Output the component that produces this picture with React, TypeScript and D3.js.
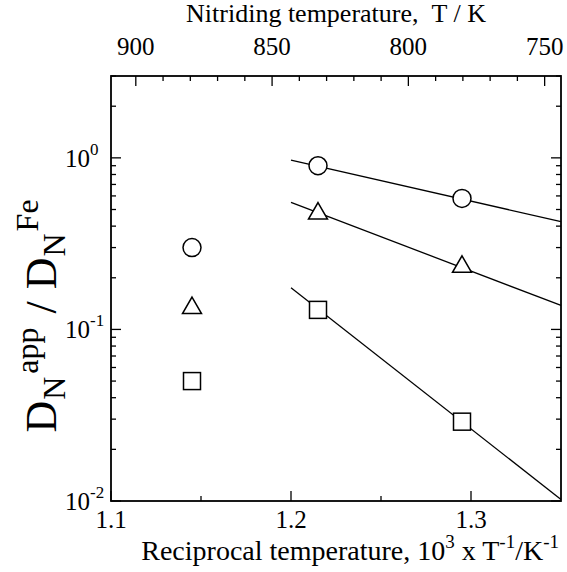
import React from 'react';
import * as d3 from 'd3';

// reciprocal temperature (10^3/T) and D_N^app / D_N^Fe
const xFit = [1.215, 1.295];
const circleY = [0.9, 0.58];
const triangleY = [0.48, 0.235];
const squareY = [0.13, 0.029];

// isolated points at the left
const xLeft = 1.145;
const leftY = { circle: 0.3, triangle: 0.135, square: 0.05 };

// fitted lines: [x0, y0, x1, y1]
const fitCircle = [1.2, 0.97, 1.35, 0.425];
const fitTriangle = [1.2, 0.55, 1.35, 0.138];
const fitSquare = [1.2, 0.175, 1.35, 0.0102];

const xTicksMajor = [1.1, 1.2, 1.3];
const xTicksMinor = [1.15, 1.25];
const tTicksMajor = [900, 850, 800, 750];
const tTicksMinor = [890, 880, 870, 860, 840, 830, 820, 810, 790, 780, 770, 760];
const yDecades = [-2, -1, 0];

const W = 567;
const H = 572;
const margin = { top: 76, right: 6, bottom: 71, left: 111 };
const FONT = "'Liberation Serif', 'Times New Roman', serif";

const App = () => {
  const x = d3.scaleLinear().domain([1.1, 1.35]).range([margin.left, W - margin.right]);
  const t = d3.scaleLinear().domain([909.1, 744]).range([margin.left, W - margin.right]);
  const y = d3.scaleLog().domain([0.01, 3]).range([H - margin.bottom, margin.top]);

  const x0 = margin.left;
  const x1 = W - margin.right;
  const y0 = H - margin.bottom;
  const y1 = margin.top;

  const yMinor: number[] = [];
  yDecades.forEach(e => {
    for (let k = 2; k <= 9; k++) {
      const v = k * Math.pow(10, e);
      if (v <= 3) yMinor.push(v);
    }
  });

  const line = d3.line<[number, number]>().x(d => x(d[0])).y(d => y(d[1]));
  const fitPath = (f: number[]) => line([[f[0], f[1]], [f[2], f[3]]]) as string;

  const circle = (cx: number, cy: number, key: string) => (
    <circle key={key} cx={cx} cy={cy} r={9} fill="#fff" stroke="#000" strokeWidth={1.5} />
  );
  const triangle = (cx: number, cy: number, key: string) => (
    <path key={key} d={`M${cx},${cy - 10}L${cx + 9.5},${cy + 6.5}L${cx - 9.5},${cy + 6.5}Z`}
      fill="#fff" stroke="#000" strokeWidth={1.5} />
  );
  const square = (cx: number, cy: number, key: string) => (
    <rect key={key} x={cx - 8.5} y={cy - 8.5} width={17} height={17}
      fill="#fff" stroke="#000" strokeWidth={1.5} />
  );

  return (
    <svg width={W} height={H} fontFamily={FONT}
      style={{ position: 'absolute', left: 0, top: 0, background: '#fff', fontFamily: FONT }}>
      <rect width={W} height={H} fill="#fff" />

      {/* fit lines */}
      <g stroke="#000" strokeWidth={1.3} fill="none">
        <path d={fitPath(fitCircle)} />
        <path d={fitPath(fitTriangle)} />
        <path d={fitPath(fitSquare)} />
      </g>

      {/* markers */}
      {xFit.map((v, i) => circle(x(v), y(circleY[i]), 'c' + i))}
      {xFit.map((v, i) => triangle(x(v), y(triangleY[i]), 't' + i))}
      {xFit.map((v, i) => square(x(v), y(squareY[i]), 's' + i))}
      {circle(x(xLeft), y(leftY.circle), 'lc')}
      {triangle(x(xLeft), y(leftY.triangle), 'lt')}
      {square(x(xLeft), y(leftY.square), 'ls')}

      {/* ticks, drawn inward */}
      <g stroke="#000" strokeWidth={1.3}>
        {xTicksMajor.map(v => (
          <line key={'xM' + v} x1={x(v)} x2={x(v)} y1={y0} y2={y0 - 10} />
        ))}
        {xTicksMinor.map(v => (
          <line key={'xm' + v} x1={x(v)} x2={x(v)} y1={y0} y2={y0 - 5} />
        ))}
        {tTicksMajor.map(v => (
          <line key={'tM' + v} x1={t(v)} x2={t(v)} y1={y1} y2={y1 + 10} />
        ))}
        {tTicksMinor.map(v => (
          <line key={'tm' + v} x1={t(v)} x2={t(v)} y1={y1} y2={y1 + 5} />
        ))}
        {yDecades.map(e => (
          <g key={'yM' + e}>
            <line x1={x0} x2={x0 + 10} y1={y(Math.pow(10, e))} y2={y(Math.pow(10, e))} />
            <line x1={x1} x2={x1 - 10} y1={y(Math.pow(10, e))} y2={y(Math.pow(10, e))} />
          </g>
        ))}
        {yMinor.map(v => (
          <g key={'ym' + v}>
            <line x1={x0} x2={x0 + 5} y1={y(v)} y2={y(v)} />
            <line x1={x1} x2={x1 - 5} y1={y(v)} y2={y(v)} />
          </g>
        ))}
      </g>

      {/* frame */}
      <rect x={x0} y={y1} width={x1 - x0} height={y0 - y1} fill="none" stroke="#000" strokeWidth={1.8} />

      {/* tick labels */}
      {xTicksMajor.map(v => (
        <text key={'xl' + v} x={x(v)} y={y0 + 27} fontFamily={FONT} fontSize={25}
          textAnchor="middle">{v.toFixed(1)}</text>
      ))}
      {tTicksMajor.map(v => (
        <text key={'tl' + v} x={t(v)} y={y1 - 21} fontFamily={FONT} fontSize={25}
          textAnchor="middle">{v}</text>
      ))}
      {yDecades.map(e => (
        <text key={'yl' + e} x={65} y={y(Math.pow(10, e)) + 9} fontFamily={FONT} fontSize={25}>
          10<tspan fontSize={17} dy={-12}>{e}</tspan>
        </text>
      ))}

      {/* axis titles */}
      <text x={(x0 + x1) / 2} y={22} fontFamily={FONT} fontSize={26} textAnchor="middle">
        Nitriding temperature,{'\u00a0\u00a0'}T / K
      </text>
      <text x={W - 8} y={H - 12} fontFamily={FONT} fontSize={28} textAnchor="end">
        Reciprocal temperature, 10<tspan fontSize={19} dy={-12}>3</tspan>
        <tspan dy={12}> x T</tspan><tspan fontSize={19} dy={-12}>-1</tspan>
        <tspan dy={12}>/K</tspan><tspan fontSize={19} dy={-12}>-1</tspan>
      </text>

      <text transform={`translate(56, 316) rotate(-90)`} fontFamily={FONT}
        fontSize={44} textAnchor="middle">
        D<tspan fontSize={32} dx={1} dy={9}>N</tspan>
        <tspan fontSize={32} dx={3} dy={-27}>app</tspan>
        <tspan dx={14} dy={18}>/</tspan>
        <tspan dx={12}>D</tspan>
        <tspan fontSize={32} dx={1} dy={9}>N</tspan>
        <tspan fontSize={32} dx={2} dy={-27}>Fe</tspan>
      </text>
    </svg>
  );
};

export default App;
